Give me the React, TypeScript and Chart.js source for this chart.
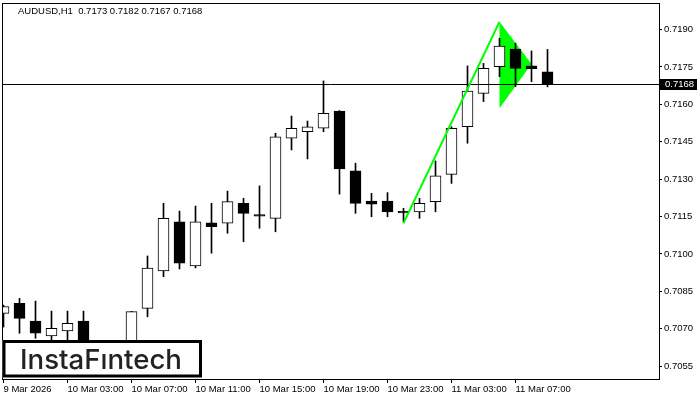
import React, { useEffect, useRef } from 'react';
import { Chart, registerables } from 'chart.js';
Chart.register(...registerables);

const symbolTitle = 'AUDUSD,H1  0.7173 0.7182 0.7167 0.7168';

const opens = [
  0.70762, 0.70802, 0.70731, 0.70671, 0.70691, 0.70731, 0.70615, 0.70590, 0.70630,
  0.70782, 0.70932, 0.71129, 0.70952, 0.71125, 0.71123, 0.71203, 0.71152, 0.71143,
  0.71464, 0.71490, 0.71504, 0.71573, 0.71333, 0.71212, 0.71212, 0.71165, 0.71169,
  0.71210, 0.71319, 0.71510, 0.71644, 0.71751, 0.71821, 0.71754, 0.7173,
];
const highs = [
  0.70795, 0.70822, 0.70811, 0.70771, 0.70771, 0.70771, 0.70640, 0.70650, 0.70770,
  0.70992, 0.71203, 0.71172, 0.71192, 0.71203, 0.71252, 0.71223, 0.71273, 0.71484,
  0.71553, 0.71533, 0.71694, 0.71575, 0.71364, 0.71243, 0.71246, 0.71183, 0.71223,
  0.71373, 0.71510, 0.71754, 0.71764, 0.71865, 0.71845, 0.71814, 0.7182,
];
const lows = [
  0.70707, 0.70682, 0.70662, 0.70635, 0.70647, 0.70591, 0.70560, 0.70570, 0.70610,
  0.70748, 0.70909, 0.70940, 0.70944, 0.71003, 0.71083, 0.71049, 0.71103, 0.71089,
  0.71417, 0.71381, 0.71490, 0.71240, 0.71163, 0.71149, 0.71149, 0.71129, 0.71143,
  0.71169, 0.71283, 0.71444, 0.71611, 0.71711, 0.71671, 0.71691, 0.7167,
];
const closes = [
  0.70789, 0.70742, 0.70682, 0.70702, 0.70722, 0.70615, 0.70585, 0.70625, 0.70769,
  0.70943, 0.71143, 0.70963, 0.71129, 0.71109, 0.71210, 0.71163, 0.71152, 0.71470,
  0.71504, 0.71510, 0.71564, 0.71341, 0.71203, 0.71200, 0.71169, 0.71165, 0.71203,
  0.71313, 0.71504, 0.71653, 0.71744, 0.71834, 0.71744, 0.71743, 0.7168,
];

const xTickIndex = [0, 4, 8, 12, 16, 20, 24, 28, 32];
const xTickLabels = [
  '9 Mar 2026', '10 Mar 03:00', '10 Mar 07:00', '10 Mar 11:00', '10 Mar 15:00',
  '10 Mar 19:00', '10 Mar 23:00', '11 Mar 03:00', '11 Mar 07:00',
];
const yTickValues = [0.7055, 0.7070, 0.7085, 0.7100, 0.7115, 0.7130, 0.7145, 0.7160, 0.7175, 0.7190];
const currentPrice = 0.7168;

const poleX = [25, 31];
const poleY = [0.71123, 0.71931];
const flagX = [31, 31, 33];
const flagY = [0.71931, 0.71584, 0.71762];

const logoText = 'InstaFıntech';

const FONT = "'Liberation Sans', Arial, sans-serif";

export default function App() {
  const ref = useRef<HTMLCanvasElement>(null);

  useEffect(() => {
    document.body.style.margin = '0';
    const canvas = ref.current!;
    const idx = opens.map((_, i) => i);
    const bodies = idx.map((i) => ({ x: i, y: [Math.min(opens[i], closes[i]), Math.max(opens[i], closes[i])] }));
    const wicks = idx.map((i) => ({ x: i, y: [lows[i], highs[i]] }));
    const bodyColors = idx.map((i) => (closes[i] > opens[i] ? '#ffffff' : '#000000'));

    const overlay = {
      id: 'overlay',
      beforeDatasetsDraw(chart: any) {
        const { ctx, chartArea: a, scales } = chart;
        const x = scales.x, y = scales.y;
        ctx.save();
        ctx.beginPath();
        ctx.rect(a.left, a.top, a.right - a.left, a.bottom - a.top);
        ctx.clip();
        ctx.fillStyle = '#00ff00';
        ctx.beginPath();
        flagX.forEach((v, k) => {
          const px = x.getPixelForValue(v);
          const py = y.getPixelForValue(flagY[k]);
          if (k === 0) ctx.moveTo(px, py);
          else ctx.lineTo(px, py);
        });
        ctx.closePath();
        ctx.fill();
        ctx.restore();
      },
      afterDatasetsDraw(chart: any) {
        const { ctx, chartArea: a, scales } = chart;
        const x = scales.x, y = scales.y;
        ctx.save();
        ctx.beginPath();
        ctx.rect(a.left, a.top, a.right - a.left, a.bottom - a.top);
        ctx.clip();
        const py = Math.floor(y.getPixelForValue(currentPrice)) + 0.5;
        ctx.strokeStyle = '#000';
        ctx.lineWidth = 1;
        ctx.beginPath();
        ctx.moveTo(a.left, py);
        ctx.lineTo(a.right, py);
        ctx.stroke();
        ctx.strokeStyle = '#00ff00';
        ctx.lineWidth = 2;
        ctx.beginPath();
        poleX.forEach((v, k) => {
          const px = x.getPixelForValue(v);
          const pyy = y.getPixelForValue(poleY[k]);
          if (k === 0) ctx.moveTo(px, pyy);
          else ctx.lineTo(px, pyy);
        });
        ctx.stroke();
        ctx.restore();
      },
      afterDraw(chart: any) {
        const { ctx, chartArea: a, scales } = chart;
        const y = scales.y;
        ctx.save();
        ctx.strokeStyle = '#000';
        ctx.lineWidth = 1;
        ctx.strokeRect(a.left + 0.5, a.top + 0.5, a.right - a.left, a.bottom - a.top);
        ctx.fillStyle = '#000';
        ctx.font = `9.5px ${FONT}`;
        ctx.textBaseline = 'middle';
        ctx.textAlign = 'left';
        ctx.fillText(symbolTitle, 18, 11);
        const py = Math.floor(y.getPixelForValue(currentPrice));
        ctx.fillStyle = '#000';
        ctx.fillRect(a.right + 1, py - 5, 37, 11);
        ctx.fillStyle = '#fff';
        ctx.fillText(currentPrice.toFixed(4), a.right + 6, py + 0.5);
        ctx.fillStyle = '#fff';
        ctx.fillRect(2.5, 340, 199, 37.5);
        ctx.strokeStyle = '#000';
        ctx.lineWidth = 3;
        ctx.strokeRect(4, 341.5, 196.5, 34.5);
        let size = 24;
        ctx.font = `500 ${size}px Inter, 'Open Sans', sans-serif`;
        const w = ctx.measureText(logoText).width;
        size = Math.max(18, Math.min(30, (size * 162) / w));
        ctx.font = `500 ${size}px Inter, 'Open Sans', sans-serif`;
        ctx.fillStyle = '#222222';
        ctx.textAlign = 'center';
        ctx.textBaseline = 'alphabetic';
        ctx.fillText(logoText, 101, 368.5);
        ctx.restore();
      },
    };

    const chart = new Chart(canvas, {
      type: 'bar',
      data: {
        datasets: [
          {
            label: 'body',
            data: bodies as any,
            backgroundColor: bodyColors,
            borderColor: '#000',
            borderWidth: 1,
            borderSkipped: false,
            barThickness: 11,
            grouped: false,
            minBarLength: 1.5,
          } as any,
          {
            label: 'wick',
            data: wicks as any,
            backgroundColor: '#000',
            borderWidth: 0,
            barThickness: 1,
            grouped: false,
          } as any,
        ],
      },
      options: {
        animation: false,
        responsive: false,
        devicePixelRatio: 1,
        layout: { padding: { left: 2, top: 3, right: 0, bottom: 0 } },
        plugins: { legend: { display: false }, tooltip: { enabled: false }, title: { display: false } },
        scales: {
          x: {
            type: 'linear',
            min: -0.09375,
            max: 40.96875,
            offset: false,
            border: { display: false },
            grid: { display: true, offset: false, drawOnChartArea: false, drawTicks: true, tickLength: 4, color: '#000' },
            afterBuildTicks: (s: any) => {
              s.ticks = xTickIndex.map((v) => ({ value: v }));
            },
            afterFit: (s: any) => {
              s.height = 21;
              s.paddingLeft = 0;
              s.paddingRight = 0;
            },
            ticks: {
              autoSkip: false,
              maxRotation: 0,
              minRotation: 0,
              align: 'start',
              padding: 1,
              color: '#000',
              font: { family: FONT, size: 9.5 },
              callback: (v: any) => {
                const k = xTickIndex.indexOf(Math.round(Number(v)));
                return k >= 0 ? xTickLabels[k] : '';
              },
            },
          } as any,
          y: {
            type: 'linear',
            position: 'right',
            min: 0.7049869,
            max: 0.7200625,
            border: { display: false },
            grid: { display: true, drawOnChartArea: false, drawTicks: true, tickLength: 3, color: '#000' },
            afterBuildTicks: (s: any) => {
              s.ticks = yTickValues.map((v) => ({ value: v }));
            },
            afterFit: (s: any) => {
              s.width = 41;
              s.paddingTop = 0;
              s.paddingBottom = 0;
            },
            ticks: {
              padding: 2,
              color: '#000',
              font: { family: FONT, size: 9.5 },
              callback: (v: any) => Number(v).toFixed(4),
            },
          } as any,
        },
      },
      plugins: [overlay],
    });

    return () => chart.destroy();
  }, []);

  return (
    <div style={{ width: 700, height: 400 }}>
      <canvas ref={ref} width={700} height={400} style={{ display: 'block' }} />
    </div>
  );
}
